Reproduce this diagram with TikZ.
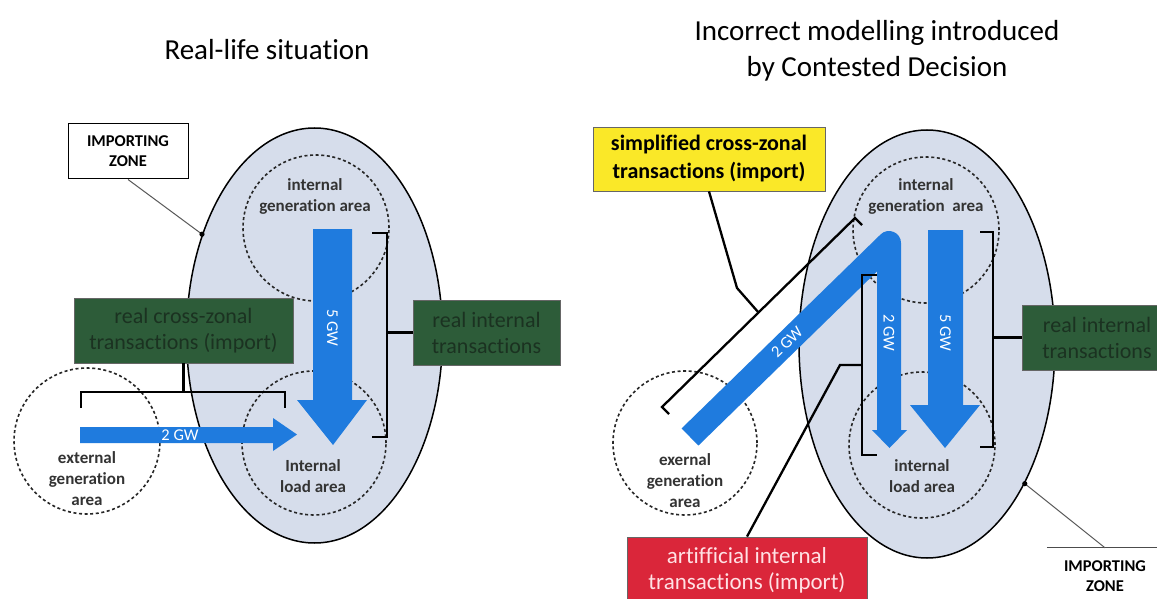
\documentclass[tikz,border=0pt]{standalone}
\usepackage{fontspec}
\setmainfont{Carlito}[Ligatures=NoCommon]
\usetikzlibrary{shapes.geometric}
\definecolor{zonefill}{RGB}{214,221,235}
\definecolor{flowblue}{RGB}{31,123,222}
\definecolor{boxgreen}{RGB}{45,92,57}
\definecolor{greentext}{RGB}{27,50,33}
\definecolor{yelbox}{RGB}{250,232,40}
\definecolor{redbox}{RGB}{218,38,58}
\definecolor{redtext}{RGB}{255,225,228}
\begin{document}
\begin{tikzpicture}[x=1pt,y=-1pt,
  zone/.style={ellipse,fill=zonefill,draw=black,line width=1.5pt,inner sep=0pt},
  area/.style={circle,draw=black!85,line width=1.6pt,dash pattern=on 3pt off 2.6pt,inner sep=0pt},
  arealbl/.style={font=\fontsize{17}{21}\selectfont\bfseries,align=center,text=black!80},
  flowlbl/.style={font=\fontsize{16.5}{18}\selectfont,text=white},
  brk/.style={draw=black,line width=2.3pt},
  gbox/.style={fill=boxgreen,draw=black!60,line width=0.8pt,text=greentext,font=\fontsize{22}{26}\selectfont,align=center,inner sep=0pt},
  izbox/.style={font=\fontsize{16.5}{20}\selectfont\bfseries,align=center,inner sep=0pt},
  lead/.style={draw=black!65,line width=1pt},
  ttl/.style={font=\fontsize{29}{36}\selectfont,align=center}
]
\useasboundingbox (0,0) rectangle (1157,599);
\fill[white] (0,0) rectangle (1157,599);

% ---------- titles
\node[ttl] (t1) at (267,50) {Real-life situation};
\node[ttl] (t2) at (877,51) {Incorrect modelling introduced\\by Contested Decision};

% ================= LEFT =================
\node[zone,minimum width=256pt,minimum height=415pt] (zoneL) at (314.5,335.5) {};
\node[area,minimum size=146pt] (genL) at (316,228) {};
\node[area,minimum size=144pt] (loadL) at (314,443) {};
\node[area,minimum size=146pt] (extL) at (87,441) {};
\node[arealbl] (genLt) at (315,196) {internal\\generation area};
\node[arealbl] (loadLt) at (313,476) {Internal\\load area};
\node[arealbl] (extLt) at (87,479) {external\\generation\\area};

% flows
\fill[flowblue] (313,229) -- (352,229) -- (352,400) -- (367,400) -- (333,445) -- (297,400) -- (313,400) -- cycle;
\node[flowlbl,rotate=-90] (fiveL) at (332.5,328) {5 GW};
\fill[flowblue] (80,427) -- (273,427) -- (273,418) -- (297,434.5) -- (273,451) -- (273,443) -- (80,443) -- cycle;
\node[flowlbl] (twoL) at (180,435) {2 GW};

% boxes
\node[gbox,minimum width=219pt,minimum height=65pt] (crossL) at (183.5,330.5) {real cross-zonal\\transactions (import)};
\node[gbox,minimum width=147pt,minimum height=65pt] (intL) at (486.5,332.5) {real internal\\transactions};

% brackets
\coordinate (brL) at (183.5,392);
\draw[brk] (81,408) -- (81,392) -- (285,392) -- (285,408);
\draw[brk] (crossL.south) -- (brL);
\draw[brk] (372,233) -- (387,233) -- (387,437) -- (372,437);
\coordinate (brRL) at (387,332.5);
\draw[brk] (brRL) -- (intL.west);

% importing zone
\node[izbox,draw=black,line width=1pt,fill=white,minimum width=120pt,minimum height=55pt] (izL) at (128,151.5) {IMPORTING\\ZONE};
\draw[lead] (izL.south) -- (zoneL.138);
\fill (zoneL.138) circle (2.6pt);

% ================= RIGHT =================
\node[zone,minimum width=256pt,minimum height=428pt] (zoneR) at (927,344) {};
\node[area,minimum size=146pt] (genR) at (926,230) {};
\node[area,minimum size=146pt] (loadR) at (922,445) {};
\node[area,minimum size=144pt] (extR) at (685,443) {};
\node[arealbl] (genRt) at (926,196) {internal\\generation~ area};
\node[arealbl] (loadRt) at (922,476) {internal\\load area};
\node[arealbl] (extRt) at (685,481) {exernal\\generation\\area};

% flows
\draw[flowblue,line width=24pt,line join=round] (690,437) -- (889,243) -- (889,431);
\fill[flowblue] (872,430) -- (907,430) -- (889.5,448) -- cycle;
\node[flowlbl,rotate=44.3] (twoRd) at (787,342) {2 GW};
\node[flowlbl,rotate=-90] (twoRv) at (889,333) {2 GW};
\fill[flowblue] (928,230) -- (963,230) -- (963,405) -- (980,405) -- (945,448) -- (910,405) -- (928,405) -- cycle;
\node[flowlbl,rotate=-90] (fiveR) at (945.5,333) {5 GW};

% boxes
\begin{scope}
\clip (0,0) rectangle (1157,599);
\node[gbox,minimum width=150pt,minimum height=65pt] (intR) at (1097,337.5) {real internal\\transactions};
\node[gbox,fill=redbox,text=redtext,font=\fontsize{23}{26}\selectfont,minimum width=240pt,minimum height=66pt] (artR) at (747,570) {artifficial internal\\transactions (import)};
\end{scope}
\node[gbox,fill=yelbox,text=black,font=\fontsize{22}{28}\selectfont\bfseries,minimum width=232pt,minimum height=64pt] (simY) at (709,159) {simplified cross-zonal\\transactions (import)};

% brackets
\draw[brk] (980,232) -- (993,232) -- (993,447) -- (980,447);
\coordinate (brRR) at (993,337.5);
\draw[brk] (brRR) -- (intR.west);
\draw[brk] (877,275) -- (862,275) -- (862,455) -- (877,455);
\coordinate (artJ) at (862,365);
\coordinate (artK) at (840,365);
\draw[brk] (artJ) -- (artK) -- (artR.north);
\draw[brk] (669,414) -- (662,407) -- (855,218) -- (862,225);
\coordinate (simJ) at (758.5,312.5);
\coordinate (simK) at (737,288);
\draw[brk] (simY.south) -- (simK) -- (simJ);

% importing zone right
\node[izbox,minimum width=116pt,minimum height=57pt] (izR) at (1105,576.5) {IMPORTING\\ZONE};
\draw[line width=1pt,black!70] (izR.north west) -- (izR.north east);
\draw[lead] (zoneR.305) -- (izR.north);
\fill (zoneR.305) circle (2.6pt);
\end{tikzpicture}
\end{document}
